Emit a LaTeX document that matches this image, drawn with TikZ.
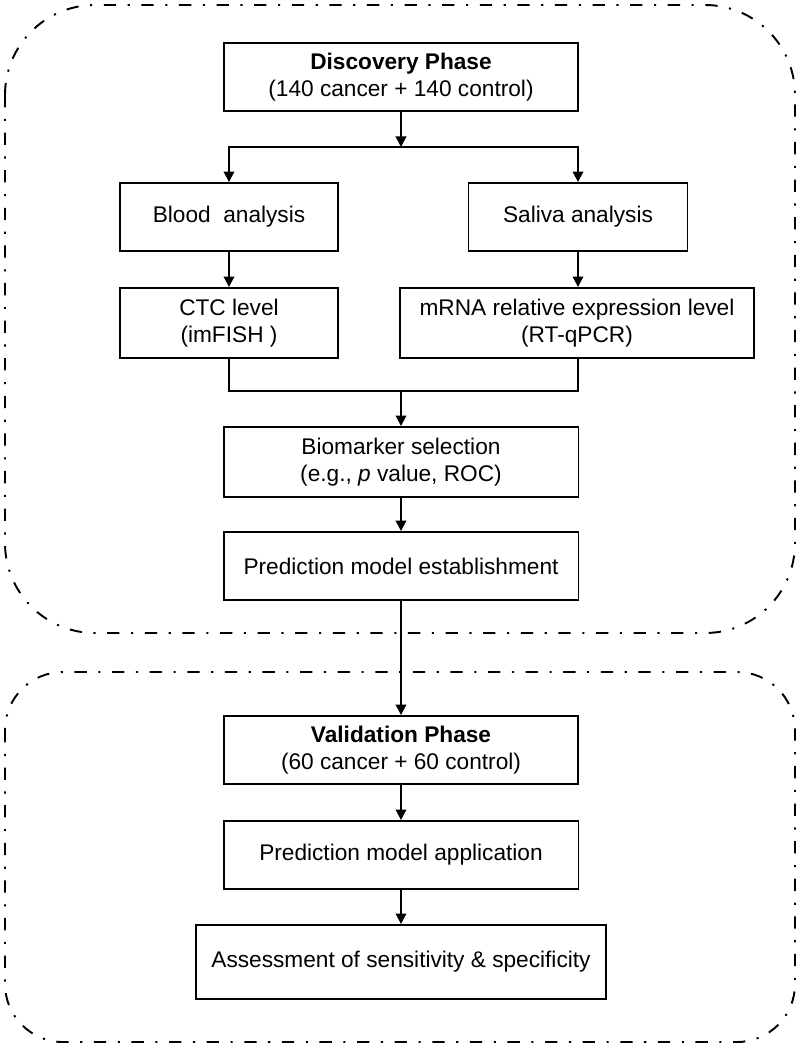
\documentclass[tikz,border=0pt]{standalone}
\usepackage{fontspec}
\setmainfont{Liberation Sans}
\usetikzlibrary{arrows.meta}
\begin{document}
\begin{tikzpicture}[x=0.02cm,y=-0.02cm,
  box/.style={draw, line width=1.1pt, align=center, inner sep=2pt,
    font=\fontsize{12.9pt}{15.5pt}\selectfont},
  link/.style={line width=1.1pt},
  arr/.style={line width=1.1pt, -{Triangle[length=6pt,width=6pt]}},
  phase/.style={line width=1.1pt, dash pattern=on 7pt off 6.6pt on 1.2pt off 6.6pt}]
\useasboundingbox (0,0) rectangle (800,1046);
% phase frames
\draw[phase, rounded corners=1.8cm] (5,5) rectangle (795,633);
\draw[phase, rounded corners=1.16cm] (5,672) rectangle (795,1042);
% nodes
\node[box, minimum width=7.08cm, minimum height=1.36cm] (disc) at (401,77)
  {\textbf{Discovery Phase}\\(140 cancer + 140 control)};
\node[box, minimum width=4.36cm, minimum height=1.36cm] (blood) at (229,217) {Blood~~analysis};
\node[box, minimum width=4.38cm, minimum height=1.36cm] (saliva) at (578,217) {Saliva analysis};
\node[box, minimum width=4.36cm, minimum height=1.4cm] (ctc) at (229,323) {CTC level\\(imFISH\ )};
\node[box, minimum width=7.08cm, minimum height=1.4cm] (mrna) at (577,323)
  {mRNA relative expression level\\(RT-qPCR)};
\node[box, minimum width=7.1cm, minimum height=1.4cm] (bio) at (401,462)
  {Biomarker selection\\(e.g., \textit{p} value, ROC)};
\node[box, minimum width=7.1cm, minimum height=1.36cm] (pest) at (401,566)
  {Prediction model establishment};
\node[box, minimum width=7.08cm, minimum height=1.36cm] (valid) at (401,750)
  {\textbf{Validation Phase}\\(60 cancer + 60 control)};
\node[box, minimum width=7.1cm, minimum height=1.36cm] (papp) at (401,855)
  {Prediction model application};
\node[box, minimum width=8.2cm, minimum height=1.48cm] (assess) at (401,962)
  {Assessment of sensitivity \& specificity};
% junctions
\coordinate (split) at (401,147);
\coordinate (merge) at (401,391);
% connectors
\draw[arr] (disc.south) -- (split);
\draw[arr] (split) -| (blood.north);
\draw[arr] (split) -| (saliva.north);
\draw[arr] (blood.south) -- (ctc.north);
\draw[arr] (saliva.south) -- (saliva.south |- mrna.north);
\draw[link] (ctc.south) |- (merge);
\draw[link] (saliva.south |- mrna.south) |- (merge);
\draw[arr] (merge) -- (bio.north);
\draw[arr] (bio.south) -- (pest.north);
\draw[arr] (pest.south) -- (valid.north);
\draw[arr] (valid.south) -- (papp.north);
\draw[arr] (papp.south) -- (assess.north);
\end{tikzpicture}
\end{document}
